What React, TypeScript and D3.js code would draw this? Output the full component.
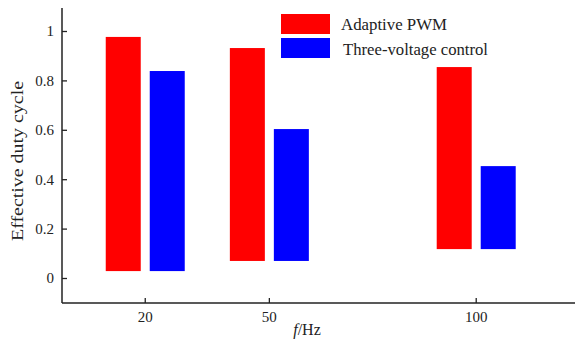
import React, { useEffect, useRef } from "react";
import * as d3 from "d3";

const freqs = [20, 50, 100];
const lowVals = [0.028, 0.069, 0.117];
const pwmTop = [0.976, 0.931, 0.854];
const threeTop = [0.838, 0.603, 0.453];
const yTicks = [0, 0.2, 0.4, 0.6, 0.8, 1];
const seriesNames = ["Adaptive PWM", "Three-voltage control"];
const seriesColors = ["#ff0000", "#0000ff"];

function App() {
  const svgRef = useRef(null);

  useEffect(() => {
    const svg = d3.select(svgRef.current);
    svg.selectAll("*").remove();
    const font = "'Liberation Serif', 'Times New Roman', serif";

    const x = d3.scaleLinear().domain([0, 124]).range([62, 575]);
    const y = d3.scaleLinear().domain([0, 1]).range([278, 31]);
    const axisY = 303;
    const barW = 35;

    // bars
    const series = [pwmTop, threeTop];
    series.forEach((tops, si) => {
      svg
        .append("g")
        .selectAll("rect")
        .data(freqs)
        .enter()
        .append("rect")
        .attr("x", (d) => (si === 0 ? x(d) - 4 - barW : x(d) + 5))
        .attr("y", (d, i) => y(tops[i]))
        .attr("width", barW)
        .attr("height", (d, i) => y(lowVals[i]) - y(tops[i]))
        .style("fill", seriesColors[si]);
    });

    // y axis
    const gy = svg
      .append("g")
      .attr("transform", "translate(62,0)")
      .call(
        d3
          .axisLeft(y)
          .tickValues(yTicks)
          .tickSize(-5)
          .tickPadding(8)
          .tickFormat((d) => String(d))
      );
    gy.select(".domain").remove();
    gy.append("line")
      .attr("x1", 0)
      .attr("x2", 0)
      .attr("y1", 8)
      .attr("y2", axisY)
      .attr("stroke", "#222")
      .attr("stroke-width", 1.5);

    // x axis
    const gx = svg
      .append("g")
      .attr("transform", `translate(0,${axisY})`)
      .call(d3.axisBottom(x).tickValues(freqs).tickSize(-5).tickPadding(8));
    gx.select(".domain").remove();
    gx.append("line")
      .attr("x1", 62)
      .attr("x2", 575)
      .attr("stroke", "#222")
      .attr("stroke-width", 1.5);

    svg
      .selectAll(".tick line")
      .attr("stroke", "#222")
      .attr("stroke-width", 1.3);
    svg
      .selectAll(".tick text")
      .style("font-family", font)
      .style("font-size", "15px")
      .attr("fill", "#222");

    // axis labels
    const xl = svg
      .append("text")
      .attr("x", 307)
      .attr("y", 335)
      .attr("text-anchor", "middle")
      .style("font-family", font)
      .style("font-size", "16px")
      .attr("fill", "#222");
    xl.append("tspan").style("font-style", "italic").text("f");
    xl.append("tspan").text("/Hz");

    svg
      .append("text")
      .attr("transform", "translate(23,161) rotate(-90)")
      .attr("text-anchor", "middle")
      .attr("textLength", 160)
      .attr("lengthAdjust", "spacingAndGlyphs")
      .style("font-family", font)
      .style("font-size", "16px")
      .attr("fill", "#222")
      .text("Effective duty cycle");

    // legend
    const lg = svg.append("g");
    const legendLen = [106, 145];
    seriesNames.forEach((name, i) => {
      lg.append("rect")
        .attr("x", 281)
        .attr("y", 14 + i * 24)
        .attr("width", 49)
        .attr("height", 20)
        .style("fill", seriesColors[i]);
      lg.append("text")
        .attr("x", 341 + i * 2)
        .attr("y", 30 + i * 25)
        .attr("textLength", legendLen[i])
        .attr("lengthAdjust", "spacingAndGlyphs")
        .style("font-family", font)
        .style("font-size", "17px")
        .attr("fill", "#222")
        .text(name);
    });
  }, []);

  return (
    <svg
      ref={svgRef}
      width={575}
      height={342}
      style={{ position: "absolute", left: 0, top: 0, background: "#fff" }}
    ></svg>
  );
}

export default App;
